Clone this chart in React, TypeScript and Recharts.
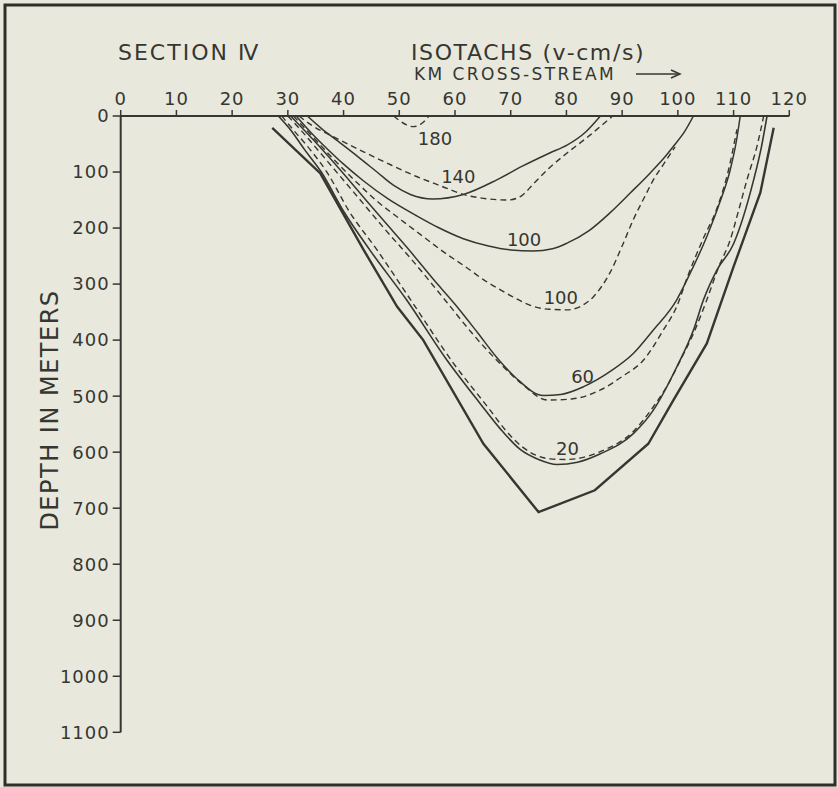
import React from 'react';
import { LineChart, Line, XAxis, YAxis, ReferenceDot } from 'recharts';

// Axis ticks
const kmTicks = [0, 10, 20, 30, 40, 50, 60, 70, 80, 90, 100, 110, 120];
const depthTicks = [0, 100, 200, 300, 400, 500, 600, 700, 800, 900, 1000, 1100];

// Isotachs as [km cross-stream, depth m]
const iso180Dashed = [[49, 0], [50, 8], [51.3, 16], [52.5, 19], [53.8, 15], [55, 4], [55.3, 0]];

const iso140Solid = [
  [33.5, 0], [36, 22], [39, 45], [42.5, 72], [46, 100], [49, 124], [52, 140], [56, 148],
  [61.5, 140], [67.5, 114], [72, 90], [77, 66], [80.1, 52], [83.5, 28], [86.1, 0],
];

const iso140Dashed = [
  [32, 0], [34.5, 18], [38, 36], [43.6, 64], [48, 85], [53.1, 108], [57.5, 125], [61.5, 140],
  [66, 148], [69.5, 150], [72, 142], [74, 122], [77, 92], [80, 67], [84, 36], [88.3, 0],
];

const iso100Solid = [
  [31.5, 0], [34, 28], [37, 58], [40, 86], [43.6, 116], [48, 148], [53.1, 178], [57, 199],
  [61.5, 219], [66, 232], [70, 239], [74, 241], [77.5, 237], [80.1, 227], [84, 205], [87.8, 173],
  [91.5, 137], [95, 102], [97.5, 75], [99.2, 54], [101.2, 28], [102.8, 0],
];

const iso100Dashed = [
  [31, 0], [34, 32], [38, 75], [42, 115], [46, 152], [50, 183], [54, 213], [58, 243], [62, 270],
  [65.1, 292], [68.1, 310], [71, 326], [74.1, 340], [77, 345], [80.1, 346], [82.5, 340],
  [84.9, 322], [87.8, 280], [90, 232], [92, 185], [94, 145], [95.6, 114], [97.5, 85], [99.5, 55],
];

const iso60Solid = [
  [30.5, 0], [33, 26], [36, 58], [40, 103], [44, 150], [48, 196], [52, 242], [56, 290], [60, 336],
  [64, 386], [67.5, 431], [71, 468], [75.9, 499], [79, 497], [83.1, 483], [88, 455], [92, 424],
  [95.6, 382], [99.8, 328], [102, 285], [105.2, 215], [107.5, 155], [109.4, 96], [110.5, 45],
  [111.2, 0],
];

const iso60Dashed = [
  [30, 0], [32.5, 27], [35.5, 62], [39, 103], [43, 150], [47.5, 203], [52.2, 256], [58.5, 332],
  [63, 387], [67.5, 436], [72, 478], [76.6, 507], [81, 505], [86.1, 489], [90, 465], [93.8, 436],
  [97.4, 382], [99.8, 340], [101.8, 285], [104.5, 220], [107, 165], [109, 100], [110.6, 24],
];

const iso20Solid = [
  [28.3, 0], [30.5, 25], [33, 60], [36, 100], [40, 170], [44.7, 239], [51.3, 328], [58.5, 435],
  [64.5, 513], [68.1, 558], [71.7, 595], [75, 613], [78.3, 622], [82, 618], [86.1, 603], [92, 567],
  [95.6, 525], [99.8, 448], [102.8, 382], [104.6, 328], [107, 275], [110, 228], [113.6, 114],
  [115, 55], [116, 0],
];

const iso20Dashed = [
  [28.9, 0], [31, 25], [34, 60], [37, 100], [41, 170], [46, 239], [52.5, 335], [59.7, 441],
  [66.3, 525], [69, 560], [72, 590], [77.1, 612], [80, 613], [86.1, 599], [92, 563], [95.6, 519],
  [98, 483], [100.5, 435], [102.8, 388], [105.2, 328], [107.3, 270], [109.4, 221], [111, 165],
  [112.4, 114], [114.3, 50], [115.4, 0],
];

const bottomOutline = [
  [27.2, 21], [35.8, 102], [43.6, 239], [49.6, 340], [54.3, 400], [65.1, 585], [75, 707],
  [85.1, 668], [94.7, 585], [99.2, 507], [105.2, 406], [110, 269], [114.8, 137], [117.2, 21],
];

// Curve labels
const labelTexts = ['180', '140', '100', '100', '60', '20'];
const labelKm = [56.4, 60.6, 72.4, 79, 82.9, 80.2];
const labelDepth = [41, 108, 220, 325, 465, 594];

const FONT = '"DejaVu Sans", "Liberation Sans", sans-serif';
const INK = '#363632';

const series = [
  { key: 'iso180d', pts: iso180Dashed, dashed: true, w: 1.4, type: 'monotoneX' },
  { key: 'iso140s', pts: iso140Solid, dashed: false, w: 1.5, type: 'monotoneX' },
  { key: 'iso140d', pts: iso140Dashed, dashed: true, w: 1.4, type: 'monotoneX' },
  { key: 'iso100s', pts: iso100Solid, dashed: false, w: 1.5, type: 'monotoneX' },
  { key: 'iso100d', pts: iso100Dashed, dashed: true, w: 1.4, type: 'monotoneX' },
  { key: 'iso60s', pts: iso60Solid, dashed: false, w: 1.5, type: 'monotoneX' },
  { key: 'iso60d', pts: iso60Dashed, dashed: true, w: 1.4, type: 'monotoneX' },
  { key: 'iso20s', pts: iso20Solid, dashed: false, w: 1.6, type: 'monotoneX' },
  { key: 'iso20d', pts: iso20Dashed, dashed: true, w: 1.4, type: 'monotoneX' },
  { key: 'bottom', pts: bottomOutline, dashed: false, w: 2.4, type: 'linear' },
];

const toPoints = (pairs: number[][]) => pairs.map(([km, depth]) => ({ km, depth }));

export default function App() {
  return (
    <div
      style={{
        position: 'fixed',
        left: 0,
        top: 0,
        width: 838,
        height: 787,
        background: '#e8e9dc',
        overflow: 'hidden',
      }}
    >
      <LineChart width={838} height={787} margin={{ top: 86, right: 48.7, bottom: 54.7, left: 50.7 }}>
        <XAxis
          type="number"
          dataKey="km"
          orientation="top"
          domain={[0, 120]}
          ticks={kmTicks}
          interval={0}
          height={30}
          tickSize={6}
          tickMargin={5}
          allowDataOverflow
          axisLine={{ stroke: INK, strokeWidth: 2 }}
          tickLine={{ stroke: INK, strokeWidth: 1.5 }}
          tick={{ fontSize: 18, fill: INK, fontFamily: FONT, letterSpacing: 1 }}
        />
        <YAxis
          type="number"
          reversed
          domain={[0, 1100]}
          ticks={depthTicks}
          interval={0}
          width={70}
          tickSize={8}
          tickMargin={3}
          allowDataOverflow
          axisLine={{ stroke: INK, strokeWidth: 2 }}
          tickLine={{ stroke: INK, strokeWidth: 1.5 }}
          tick={{ fontSize: 18, fill: INK, fontFamily: FONT, letterSpacing: 1 }}
        />
        {series.map((s) => (
          <Line
            key={s.key}
            data={toPoints(s.pts)}
            dataKey="depth"
            type={s.type as any}
            stroke={INK}
            strokeWidth={s.w}
            strokeDasharray={s.dashed ? '6 4' : undefined}
            dot={false}
            activeDot={false}
            isAnimationActive={false}
          />
        ))}
        {labelTexts.map((t, i) => (
          <ReferenceDot
            key={'lbl' + i}
            x={labelKm[i]}
            y={labelDepth[i]}
            r={0}
            fill="none"
            stroke="none"
            label={{ value: t, position: 'center', fontSize: 18, fill: INK, fontFamily: FONT }}
          />
        ))}
      </LineChart>
      <svg
        width={838}
        height={787}
        style={{ position: 'absolute', left: 0, top: 0, pointerEvents: 'none' }}
      >
        <rect x={5} y={5} width={830} height={780} fill="none" stroke="#2e2e2a" strokeWidth={3} />
        <text x={118} y={60} fontSize={22} fill={INK} fontFamily={FONT} letterSpacing={2}>
          SECTION Ⅳ
        </text>
        <text x={411} y={60} fontSize={22} fill={INK} fontFamily={FONT} letterSpacing={1.6}>
          ISOTACHS (v-cm/s)
        </text>
        <text x={414} y={80} fontSize={17} fill={INK} fontFamily={FONT} letterSpacing={2.4}>
          KM CROSS-STREAM
        </text>
        <line x1={636} y1={74} x2={679} y2={74} stroke={INK} strokeWidth={1.5} />
        <polyline points="671,70 680,74 671,78" fill="none" stroke={INK} strokeWidth={1.5} />
        <text
          transform="translate(58, 410) rotate(-90)"
          x={0}
          y={0}
          textAnchor="middle"
          fontSize={24}
          fill={INK}
          fontFamily={FONT}
          letterSpacing={1.5}
        >
          DEPTH IN METERS
        </text>
      </svg>
    </div>
  );
}
